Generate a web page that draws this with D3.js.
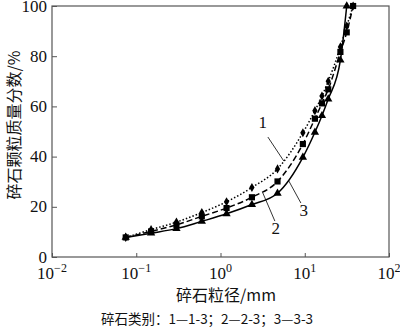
<!DOCTYPE html>
<html>
<head>
<meta charset="utf-8">
<script src="https://cdn.jsdelivr.net/npm/d3@7"></script>
<style>
  body { margin: 0; background: #fff; }
  svg { display: block; }
</style>
</head>
<body>
<svg id="chart" width="400" height="330"></svg>
<script>
// Sieve sizes (mm) and cumulative passing mass fraction (%) per gravel type
const sizes   = [0.075, 0.15, 0.3, 0.6, 1.18, 2.36, 4.75, 9.5, 13.2, 16, 19, 26.5, 31.5, 37.5];
const series1 = [7.8, 10.9, 13.9, 17.7, 22.0, 27.7, 35.1, 49.5, 58.3, 64.1, 70.0, 83.7, 92.0, 100];
const series2 = [7.8, 10.2, 12.8, 16.2, 19.5, 23.8, 30.1, 45.0, 55.1, 61.2, 66.8, 81.7, 89.5, 100];
const series3 = [7.8, 9.5, 11.3, 14.2, 17.2, 20.9, 25.4, 39.7, 49.7, 56.3, 62.9, 78.4, 100];
const xTickExps = [-2, -1, 0, 1, 2];
const yTicks = [0, 20, 40, 60, 80, 100];
const curveNames = ["1", "2", "3"];
// callout positions in data units: [label x, label y, line x1, y1, x2, y2]
const callouts = [
  [3.18, 51.5, 3.65, 47.8, 5.65, 38.2],
  [4.54, 9.0, 4.42, 14.3, 3.18, 25.5],
  [9.75, 16.5, 9.0, 21.5, 6.47, 30.3]
];

const svg = d3.select("#chart");
const m = { left: 52, right: 389, top: 6, bottom: 257 };

const x = d3.scaleLog().domain([0.01, 100]).range([m.left, m.right]);
const y = d3.scaleLinear().domain([0, 100]).range([m.bottom, m.top]);

const serif = "'Liberation Serif', 'DejaVu Serif', serif";
const cjk = "'Noto Sans CJK SC', sans-serif";

// frame
svg.append("rect")
  .attr("x", m.left).attr("y", m.top)
  .attr("width", m.right - m.left).attr("height", m.bottom - m.top)
  .attr("fill", "none").attr("stroke", "#555").attr("stroke-width", 1.2);

// bottom axis, ticks pointing inward
const xAxis = svg.append("g").attr("transform", `translate(0,${m.bottom})`)
  .call(d3.axisBottom(x).tickValues(xTickExps.map(e => Math.pow(10, e)))
    .tickSize(-4).tickFormat(""));
xAxis.select(".domain").remove();
xAxis.selectAll(".tick line").attr("stroke", "#555");

const xl = svg.append("g");
xTickExps.forEach(e => {
  const t = xl.append("text")
    .attr("x", x(Math.pow(10, e))).attr("y", 279)
    .attr("text-anchor", "middle")
    .attr("font-family", serif).attr("font-size", 17).attr("fill", "#111");
  t.append("tspan").text("10");
  t.append("tspan").attr("dy", -7).attr("font-size", 12).text(e < 0 ? "\u2212" + (-e) : String(e));
});

// left axis, ticks pointing inward
const yAxis = svg.append("g").attr("transform", `translate(${m.left},0)`)
  .call(d3.axisLeft(y).tickValues(yTicks).tickSize(-5).tickPadding(5));
yAxis.select(".domain").remove();
yAxis.selectAll(".tick line").attr("stroke", "#555");
yAxis.selectAll(".tick text")
  .attr("font-family", serif).attr("font-size", 17).attr("fill", "#111")
  .attr("dy", "0.3em");

// axis titles
svg.append("text")
  .attr("x", 226).attr("y", 301).attr("text-anchor", "middle")
  .attr("font-family", cjk).attr("font-size", 16).attr("fill", "#111")
  .text("碎石粒径/mm");

svg.append("text")
  .attr("transform", "translate(20,125) rotate(-90)")
  .attr("text-anchor", "middle")
  .attr("font-family", cjk).attr("font-size", 16).attr("fill", "#111")
  .text("碎石颗粒质量分数/%");

svg.append("text")
  .attr("x", 207).attr("y", 324).attr("text-anchor", "middle")
  .attr("font-family", cjk).attr("font-size", 13.5).attr("fill", "#111")
  .text("碎石类别：1—1-3；2—2-3；3—3-3");

// curves
const line = d3.line()
  .x(d => x(d[0])).y(d => y(d[1]))
  .curve(d3.curveMonotoneX);

const allSeries = [
  { vals: series1, dash: "1.5,2", marker: d3.symbolDiamond, size: 24 },
  { vals: series2, dash: "6,3", marker: d3.symbolSquare, size: 38 },
  { vals: series3, dash: null, marker: d3.symbolTriangle, size: 30 }
];

allSeries.forEach(s => {
  const pts = s.vals.map((v, i) => [sizes[i], v]);
  svg.append("path")
    .datum(pts)
    .attr("d", line)
    .attr("fill", "none").attr("stroke", "#000")
    .attr("stroke-width", 1.5)
    .attr("stroke-dasharray", s.dash);
  svg.append("g").selectAll("path")
    .data(pts).join("path")
    .attr("transform", d => `translate(${x(d[0])},${y(d[1])})`)
    .attr("d", d3.symbol().type(s.marker).size(s.size))
    .attr("fill", "#000");
});

// numbered callouts
callouts.forEach((c, i) => {
  svg.append("line")
    .attr("x1", x(c[2])).attr("y1", y(c[3]))
    .attr("x2", x(c[4])).attr("y2", y(c[5]))
    .attr("stroke", "#000").attr("stroke-width", 0.8);
  svg.append("text")
    .attr("x", x(c[0])).attr("y", y(c[1]))
    .attr("text-anchor", "middle")
    .attr("font-family", serif).attr("font-size", 17).attr("fill", "#111")
    .text(curveNames[i]);
});
</script>
</body>
</html>
